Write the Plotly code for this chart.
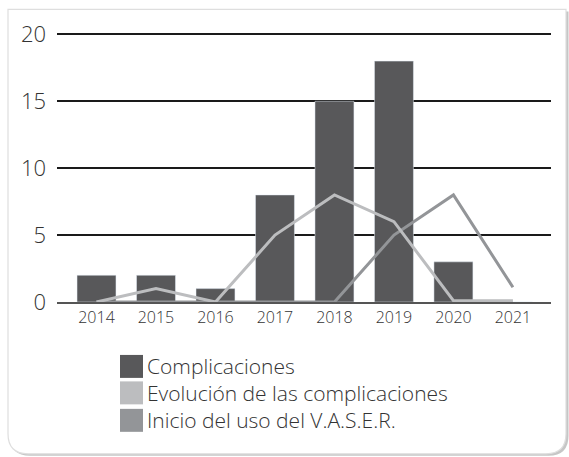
import plotly.graph_objects as go

years = ["2014", "2015", "2016", "2017", "2018", "2019", "2020", "2021"]
complicaciones = [2, 2, 1, 8, 15, 18, 3, 0]
evolucion = [0, 1, 0, 5, 8, 6, 0.1, 0.1]
inicio = [0, 0, 0, 0, 0, 5, 8, 1.1]
y_ticks = [0, 5, 10, 15, 20]
legend_labels = ["Complicaciones", "Evolución de las complicaciones", "Inicio del uso del V.A.S.E.R."]
colors = ["#58585a", "#bcbdbf", "#939598"]

W, H = 569, 457
YMAX = 20.4
L, R, B = 57, 551, 302
T = B - (B - 34) * YMAX / 20

def px(x):
    return (x - L) / (R - L)

def py(y):
    return (B - y) / (B - T)

fig = go.Figure()
fig.add_trace(go.Bar(x=years, y=complicaciones, marker_color=colors[0], width=0.655,
                     name=legend_labels[0], showlegend=False))
fig.add_trace(go.Scatter(x=years, y=inicio, mode="lines", line=dict(color=colors[2], width=3),
                         name=legend_labels[2], showlegend=False))
fig.add_trace(go.Scatter(x=years, y=evolucion, mode="lines", line=dict(color=colors[1], width=3),
                         name=legend_labels[1], showlegend=False))

shapes = []

def rr(x0, y0, x1, y1, r):
    return (f"M {px(x0)},{py(y0)} L {px(x1)},{py(y0)} L {px(x1)},{py(y1 - r)} "
            f"Q {px(x1)},{py(y1)} {px(x1 - r)},{py(y1)} L {px(x0 + r)},{py(y1)} "
            f"Q {px(x0)},{py(y1)} {px(x0)},{py(y1 - r)} Z")

shapes.append(dict(type="path", xref="paper", yref="paper", path=rr(10, 11, 568.5, 456, 20),
                   fillcolor="#c6c6c6", line=dict(width=0), layer="below"))
shapes.append(dict(type="path", xref="paper", yref="paper", path=rr(8, 9, 566, 454, 20),
                   fillcolor="white", line=dict(color="#dedede", width=1.2), layer="below"))

annotations = []
rows = [366.5, 393, 420.5]
for lab, col, yc in zip(legend_labels, colors, rows):
    shapes.append(dict(type="rect", xref="paper", yref="paper",
                       x0=px(120), x1=px(143), y0=py(yc - 11.5), y1=py(yc + 11.5),
                       fillcolor=col, line=dict(width=0)))
    annotations.append(dict(xref="paper", yref="paper", x=px(145), y=py(yc), text=lab,
                            showarrow=False, xanchor="left", yanchor="middle",
                            font=dict(family="Open Sans", size=21, color="#333333", weight=300)))

fig.update_layout(
    width=W, height=H,
    margin=dict(l=L, r=W - R, t=T, b=H - B, pad=0, autoexpand=False),
    paper_bgcolor="white", plot_bgcolor="rgba(0,0,0,0)",
    shapes=shapes, annotations=annotations,
    showlegend=False,
)
fig.update_xaxes(type="category", range=[-0.664, 7.64], showgrid=False, automargin=False,
                 showline=True, linecolor="#555555", linewidth=2,
                 ticks="", ticklabelstandoff=0,
                 tickfont=dict(family="Open Sans", size=16, color="#333333", weight=300))
fig.update_yaxes(range=[0, YMAX], tickvals=y_ticks, showgrid=True, gridcolor="#1a1a1a", gridwidth=1.5,
                 zeroline=False, showline=False, ticks="", ticklabelstandoff=10, automargin=False,
                 tickfont=dict(family="Open Sans", size=22, color="#333333", weight=300))

fig.write_html("out.html", config={"displayModeBar": False},
               post_script="document.body.style.margin='0';document.body.style.overflow='hidden';")
